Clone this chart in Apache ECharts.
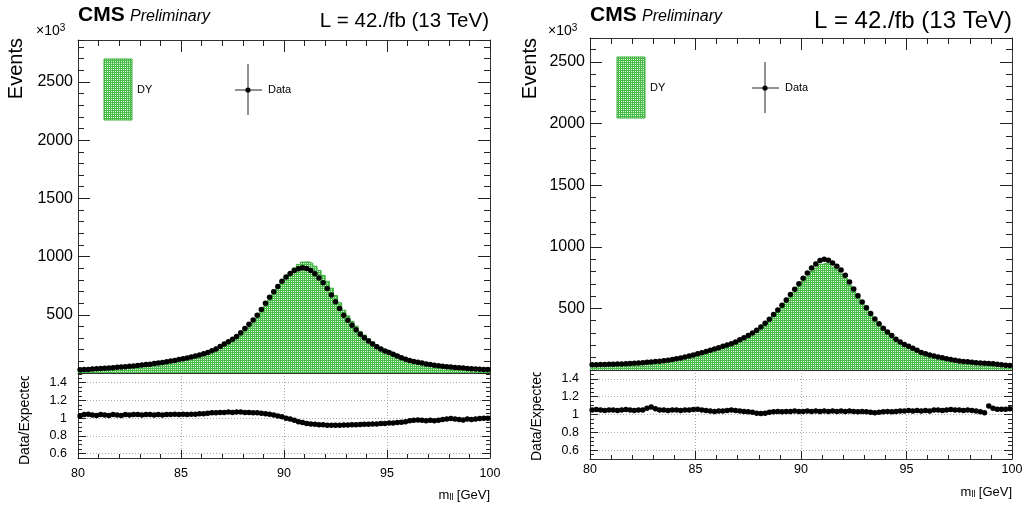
<!DOCTYPE html>
<html><head><meta charset="utf-8">
<script src="https://cdn.jsdelivr.net/npm/echarts@6/dist/echarts.min.js"></script>
<style>html,body{margin:0;padding:0;background:#fff}#c{width:1030px;height:506px}</style>
</head><body><div id="c"></div>
<script>
// ---- data (values in units of 10^3 events), 100 bins of 0.2 GeV from 80 to 100 ----
const massMin = 80, massMax = 100, nBins = 100;
const dataL = [27,29,31,34,36,39,41,44,46,49,51,54,57,60,64,68,72,76,81,85,
  90,96,102,108,115,122,129,137,145,155,165,177,191,207,228,250,268,290,313,345,
  382,418,455,497,546,600,650,697,743,787,825,855,880,895,905,898,880,853,815,775,
  725,670,612,555,497,452,410,372,332,303,275,250,225,207,190,175,160,145,130,118,
  108,99,92,85,78,72,66,62,58,54,51,48,45,42,39,37,35,33,31,29];
const ratioL = [1.025,1.04,1.045,1.035,1.03,1.04,1.035,1.03,1.04,1.035,
  1.03,1.04,1.035,1.04,1.04,1.035,1.04,1.04,1.035,1.04,
  1.035,1.04,1.04,1.045,1.04,1.045,1.04,1.045,1.045,1.05,
  1.05,1.055,1.06,1.06,1.065,1.065,1.07,1.065,1.07,1.07,
  1.065,1.065,1.06,1.06,1.055,1.05,1.045,1.035,1.025,1.015,
  1.0,0.99,0.975,0.96,0.95,0.94,0.935,0.93,0.925,0.925,
  0.92,0.92,0.92,0.92,0.922,0.922,0.925,0.925,0.928,0.93,
  0.932,0.935,0.935,0.94,0.94,0.945,0.945,0.95,0.955,0.96,
  0.97,0.975,0.98,0.975,0.97,0.975,0.97,0.975,0.985,0.99,
  0.995,0.99,0.985,0.98,0.99,0.985,0.99,0.995,1.0,1.0];
const dataR = [42,43,44,45,46,47,48,49,51,53,55,57,59,62,65,68,71,75,80,86,
  92,98,105,113,122,132,141,150,160,170,181,192,202,214,228,245,262,280,300,322,
  350,380,412,450,488,525,568,612,655,700,745,787,828,860,888,900,890,868,842,812,
  770,715,657,603,552,505,458,415,376,339,308,280,250,228,208,192,177,160,143,131,
  122,114,106,99,92,85,79,74,70,66,62,59,57,55,53,50,46,42,39,36];
const ratioR = [1.05,1.055,1.05,1.045,1.05,1.05,1.045,1.05,1.055,1.05,
  1.045,1.05,1.05,1.07,1.085,1.065,1.05,1.05,1.045,1.05,
  1.05,1.045,1.05,1.05,1.055,1.06,1.05,1.045,1.04,1.035,
  1.04,1.04,1.045,1.05,1.045,1.04,1.035,1.03,1.025,1.015,
  1.01,1.015,1.025,1.03,1.035,1.03,1.035,1.035,1.04,1.035,
  1.035,1.04,1.035,1.04,1.035,1.04,1.035,1.04,1.035,1.04,
  1.035,1.04,1.035,1.03,1.035,1.03,1.025,1.02,1.025,1.03,
  1.035,1.03,1.035,1.04,1.04,1.045,1.04,1.045,1.04,1.045,
  1.04,1.05,1.05,1.045,1.05,1.055,1.05,1.05,1.045,1.05,
  1.045,1.04,1.03,1.02,1.095,1.07,1.06,1.06,1.06,1.065];
const xTickLabels = [80, 85, 90, 95, 100];
const yMainMaxL = 2860, yMainMaxR = 2695;
const yRatioL = [0.55, 1.51], yRatioR = [0.5, 1.5];

const binW = (massMax - massMin) / nBins;
const centers = dataL.map((_, i) => massMin + binW * (i + 0.5));
const edges = Array.from({length: nBins + 1}, (_, i) => massMin + binW * i);

// MC expectation derived from data / ratio
const mcL = dataL.map((d, i) => d / ratioL[i]);
const mcR = dataR.map((d, i) => d / ratioR[i]);

function makePattern() {
  const c = document.createElement('canvas');
  c.width = 2; c.height = 2;
  const g = c.getContext('2d');
  g.fillStyle = '#48be48'; g.fillRect(0, 0, 2, 2);
  g.fillStyle = '#e2f5e2'; g.fillRect(1, 1, 1, 1);
  return c;
}
const pat = {image: makePattern(), repeat: 'repeat'};

const FONT = 'Liberation Sans, Arial, sans-serif';
const FRAME = '#333';
const TICK = '#222';

const xAxes = [], yAxes = [], series = [];
function xAx(grid, pos, interval, len, extra) {
  xAxes.push(Object.assign({
    type: 'value', gridIndex: grid, position: pos, min: massMin, max: massMax, interval: interval,
    axisLine: {show: false, onZero: false, lineStyle: {color: FRAME, width: 1}},
    axisTick: {show: true, inside: true, length: len, lineStyle: {color: TICK, width: 1}},
    axisLabel: {show: false}, splitLine: {show: false}
  }, extra || {}));
  return xAxes.length - 1;
}
function yAx(grid, pos, min, max, len, extra) {
  yAxes.push(Object.assign({
    type: 'value', gridIndex: grid, position: pos, min: min, max: max,
    axisLine: {show: false, onZero: false, lineStyle: {color: FRAME, width: 1}},
    axisTick: {show: true, inside: true, length: len, lineStyle: {color: TICK, width: 1}},
    axisLabel: {show: false}, splitLine: {show: false}
  }, extra || {}));
  return yAxes.length - 1;
}

const gridDefs = [
  {left: 78, top: 40, width: 412, height: 333},
  {left: 78, top: 373, width: 412, height: 85},
  {left: 590, top: 38, width: 422, height: 332},
  {left: 590, top: 370, width: 422, height: 89}
];

function panel(gMain, gRatio, data, mc, ratio, yMax, yR, xLabMargin) {
  const xb = xAx(gMain, 'bottom', 5, 12, {axisLine: {show: true, onZero: false, lineStyle: {color: FRAME}}});
  xAx(gMain, 'bottom', 1, 6);
  xAx(gMain, 'top', 5, 12, {axisLine: {show: true, onZero: false, lineStyle: {color: FRAME}}});
  xAx(gMain, 'top', 1, 6);
  const yl = yAx(gMain, 'left', 0, yMax, 12, {
    interval: 500,
    axisLine: {show: true, onZero: false, lineStyle: {color: FRAME}},
    axisLabel: {show: true, fontFamily: FONT, fontSize: 16, color: '#000', margin: 5,
      showMinLabel: false, showMaxLabel: false,
      formatter: v => (v % 500 === 0 && v > 0) ? String(v) : ''}
  });
  yAx(gMain, 'left', 0, yMax, 6, {interval: 100});
  yAx(gMain, 'right', 0, yMax, 12, {interval: 500, axisLine: {show: true, onZero: false, lineStyle: {color: FRAME}}});
  yAx(gMain, 'right', 0, yMax, 6, {interval: 100});
  const xr = xAx(gRatio, 'bottom', 5, 8, {
    axisLine: {show: true, onZero: false, lineStyle: {color: FRAME}},
    axisLabel: {show: true, fontFamily: FONT, fontSize: 12.5, color: '#000', margin: xLabMargin,
      formatter: v => xTickLabels.indexOf(v) >= 0 ? String(v) : ''},
    splitLine: {show: true, lineStyle: {color: '#aaa', type: [1, 2], width: 1}}
  });
  xAx(gRatio, 'bottom', 1, 4);
  const yr = yAx(gRatio, 'left', yR[0], yR[1], 8, {
    minInterval: 0.2, maxInterval: 0.2, splitNumber: 5,
    axisLine: {show: true, onZero: false, lineStyle: {color: FRAME}},
    axisLabel: {show: true, fontFamily: FONT, fontSize: 12.5, color: '#000', margin: 11,
      showMinLabel: false, showMaxLabel: false,
      formatter: v => {const r = Math.round(v * 10) / 10; return Math.abs(r - v) < 1e-6 ? String(r) : '';}},
    splitLine: {show: true, lineStyle: {color: '#aaa', type: [1, 2], width: 1}}
  });
  yAx(gRatio, 'left', yR[0], yR[1], 4, {interval: 0.05});
  yAx(gRatio, 'right', yR[0], yR[1], 8, {minInterval: 0.2, maxInterval: 0.2, splitNumber: 5,
    axisLine: {show: true, onZero: false, lineStyle: {color: FRAME}}});
  yAx(gRatio, 'right', yR[0], yR[1], 4, {interval: 0.05});

  const mcPts = edges.map((e, i) => [e, mc[Math.min(i, nBins - 1)]]);
  series.push({
    type: 'line', xAxisIndex: xb, yAxisIndex: yl, data: mcPts, step: 'end', symbol: 'none',
    lineStyle: {color: '#3aae3a', width: 1}, areaStyle: {color: pat, opacity: 1, origin: 'start'},
    z: 2, silent: true
  });
  series.push({
    type: 'scatter', xAxisIndex: xb, yAxisIndex: yl,
    data: centers.map((c, i) => [c, data[i]]), symbol: 'circle', symbolSize: 5.5,
    itemStyle: {color: '#000', opacity: 1}, z: 3, silent: true
  });
  series.push({
    type: 'scatter', xAxisIndex: xr, yAxisIndex: yr,
    data: centers.map((c, i) => [c, ratio[i]]), symbol: 'circle', symbolSize: 5.5,
    itemStyle: {color: '#000', opacity: 1}, z: 3, silent: true
  });
}
panel(0, 1, dataL, mcL, ratioL, yMainMaxL, yRatioL, 9);
panel(2, 3, dataR, mcR, ratioR, yMainMaxR, yRatioR, 4);

function legend(bx, by, dx, dy) {
  return [
    {type: 'rect', z: 10, shape: {x: bx, y: by, width: 28, height: 61}, style: {fill: pat, stroke: '#3aae3a', lineWidth: 1}},
    {type: 'text', z: 10, x: bx + 33, y: by + 31, style: {text: 'DY', font: '11px ' + FONT, fill: '#000', textVerticalAlign: 'middle'}},
    {type: 'line', z: 10, shape: {x1: dx - 13, y1: dy, x2: dx + 14, y2: dy}, style: {stroke: '#222', lineWidth: 1}},
    {type: 'line', z: 10, shape: {x1: dx, y1: dy - 26, x2: dx, y2: dy + 25}, style: {stroke: '#222', lineWidth: 1}},
    {type: 'circle', z: 11, shape: {cx: dx, cy: dy, r: 2.6}, style: {fill: '#000'}},
    {type: 'text', z: 10, x: dx + 20, y: dy, style: {text: 'Data', font: '11px ' + FONT, fill: '#000', textVerticalAlign: 'middle'}}
  ];
}
function headers(x0, xr, lSize) {
  return [
    {type: 'text', z: 10, x: x0, y: 15, style: {text: 'CMS', font: 'bold 21px ' + FONT, fill: '#000', textVerticalAlign: 'middle'}},
    {type: 'text', z: 10, x: x0 + 52, y: 17, style: {text: 'Preliminary', font: 'italic 16px ' + FONT, fill: '#000', textVerticalAlign: 'middle'}},
    {type: 'text', z: 10, x: xr, y: 21, style: {text: 'L = 42./fb (13 TeV)', font: lSize + 'px ' + FONT, fill: '#000', textAlign: 'right', textVerticalAlign: 'middle'}}
  ];
}
function ytitles(xEv, xRat, yTop, yRatBottom, yClip, x10) {
  return [
    {type: 'text', z: 10, x: xEv, y: yTop, rotation: Math.PI / 2,
      style: {text: 'Events', font: '20px ' + FONT, fill: '#000', textAlign: 'right', textVerticalAlign: 'middle'}},
    {type: 'text', z: 10, x: xRat, y: yRatBottom, rotation: Math.PI / 2,
      style: {text: 'Data/Expected', font: '14px ' + FONT, fill: '#000', textAlign: 'left', textVerticalAlign: 'middle'}},
    {type: 'rect', z: 12, shape: {x: xRat - 10, y: yClip - 40, width: 20, height: 40}, style: {fill: '#fff'}},
    {type: 'text', z: 10, x: x10, y: 31, style: {rich: {a: {font: '14px ' + FONT, fill: '#000'}, s: {font: '10px ' + FONT, fill: '#000', verticalAlign: 'top', padding: [0, 0, 6, 0]}}, text: '{a|×10}{s|3}', textVerticalAlign: 'middle'}},
  ];
}
function xtitle(xr, y) {
  return {type: 'text', z: 10, x: xr, y: y, style: {
    text: '{m|m}{s|ll} {m|[GeV]}', textAlign: 'right', textVerticalAlign: 'middle',
    rich: {m: {font: '13px ' + FONT, fill: '#000'}, s: {font: '9px ' + FONT, fill: '#000', padding: [6, 0, 0, 0]}}
  }};
}

const graphic = [].concat(
  legend(104, 59, 248, 90),
  legend(617, 57, 765, 88),
  headers(78, 489, 20.5),
  headers(590, 1012, 24),
  ytitles(16, 25, 38, 465, 376, 36),
  ytitles(530, 537, 38, 461, 372, 548),
  [xtitle(490, 495), xtitle(1012, 492)]
);

const chart = echarts.init(document.getElementById('c'), null, {renderer: 'canvas'});
chart.setOption({
  animation: false,
  backgroundColor: '#fff',
  grid: gridDefs,
  xAxis: xAxes,
  yAxis: yAxes,
  series: series,
  graphic: graphic
});
</script>
</body></html>
